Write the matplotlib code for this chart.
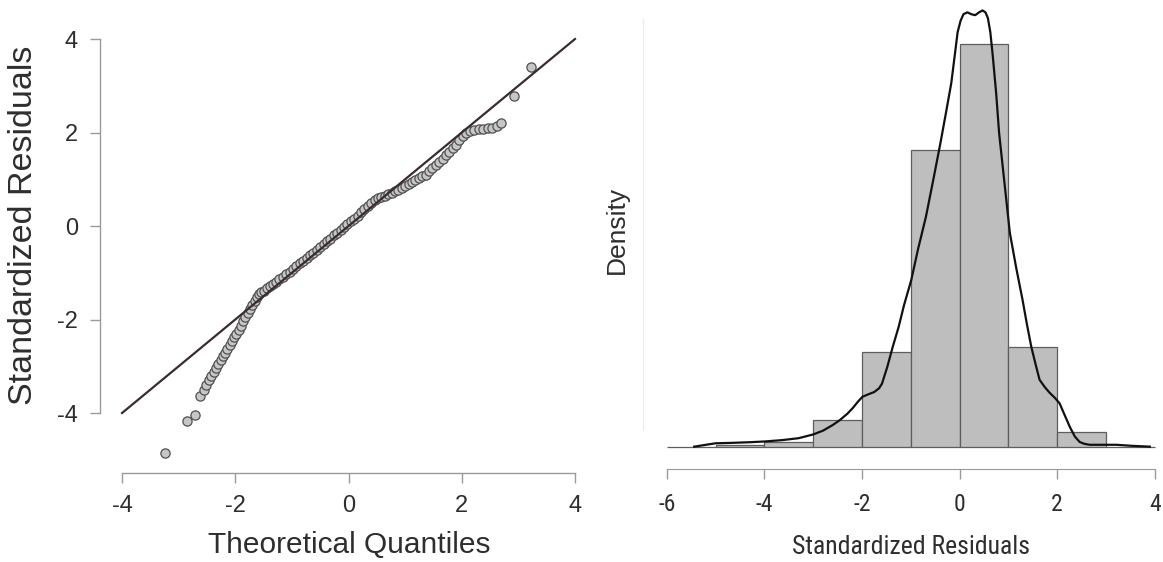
import matplotlib.pyplot as plt
import matplotlib.font_manager as fm

# --- Données ---

# Q-Q plot : quantiles théoriques / résidus standardisés (points visibles)
qq_theo = [-3.24, -2.86, -2.72, -2.62, -2.56, -2.51, -2.47, -2.42, -2.38, -2.34,
           -2.30, -2.26, -2.22, -2.18, -2.14, -2.10, -2.06, -2.02, -1.98, -1.94,
           -1.90, -1.86, -1.82, -1.78, -1.74, -1.70, -1.66, -1.62, -1.58, -1.54,
           -1.49, -1.44, -1.39, -1.34, -1.28, -1.22, -1.16, -1.10, -1.04, -0.98,
           -0.92, -0.86, -0.80, -0.74, -0.68, -0.62, -0.56, -0.50, -0.44, -0.38,
           -0.32, -0.26, -0.20, -0.14, -0.08, -0.02, 0.04, 0.10, 0.16, 0.22,
           0.28, 0.34, 0.40, 0.46, 0.52, 0.58, 0.64, 0.70, 0.76, 0.82,
           0.88, 0.94, 1.00, 1.06, 1.12, 1.18, 1.24, 1.30, 1.36, 1.42,
           1.48, 1.54, 1.60, 1.66, 1.72, 1.78, 1.84, 1.90, 1.96, 2.02,
           2.08, 2.14, 2.22, 2.30, 2.38, 2.46, 2.54, 2.62, 2.70, 2.92,
           3.23]
qq_resid = [-4.86, -4.18, -4.05, -3.63, -3.50, -3.40, -3.30, -3.21, -3.12, -3.03,
            -2.95, -2.87, -2.79, -2.71, -2.63, -2.55, -2.47, -2.38, -2.30, -2.22,
            -2.13, -2.04, -1.95, -1.86, -1.78, -1.69, -1.60, -1.52, -1.46, -1.42,
            -1.38, -1.33, -1.29, -1.24, -1.19, -1.14, -1.08, -1.03, -0.98, -0.92,
            -0.86, -0.80, -0.75, -0.69, -0.63, -0.57, -0.51, -0.45, -0.39, -0.33,
            -0.27, -0.20, -0.14, -0.08, -0.02, 0.04, 0.10, 0.16, 0.22, 0.29,
            0.36, 0.43, 0.50, 0.56, 0.60, 0.63, 0.65, 0.68, 0.71, 0.74,
            0.77, 0.81, 0.85, 0.90, 0.94, 0.98, 1.02, 1.06, 1.10, 1.17,
            1.24, 1.31, 1.37, 1.44, 1.51, 1.58, 1.66, 1.74, 1.84, 1.92,
            1.98, 2.03, 2.06, 2.08, 2.08, 2.09, 2.10, 2.13, 2.20, 2.79,
            3.41]
qq_line_x = [-4, 4]
qq_line_y = [-4, 4]

# Histogramme (densité) : bornes des classes et hauteurs
hist_edges = [-6, -5, -4, -3, -2, -1, 0, 1, 2, 3, 4]
hist_density = [0.0, 0.002, 0.005, 0.028, 0.101, 0.315, 0.427, 0.106, 0.016, 0.0]

# Estimation de densité par noyau
kde_x = [-5.44, -5.20, -5.00, -4.70, -4.31, -4.00, -3.63, -3.30, -3.15, -3.00,
         -2.80, -2.60, -2.46, -2.30, -2.19, -2.08, -1.99, -1.85, -1.75, -1.65,
         -1.59, -1.48, -1.37, -1.25, -1.14, -0.99, -0.85, -0.69, -0.54, -0.39,
         -0.27, -0.17, -0.10, -0.04, 0.02, 0.08, 0.16, 0.24, 0.32, 0.40,
         0.47, 0.53, 0.58, 0.63, 0.68, 0.75, 0.81, 0.92, 1.03, 1.16,
         1.29, 1.38, 1.47, 1.56, 1.64, 1.75, 1.85, 1.95, 2.05, 2.15,
         2.26, 2.36, 2.46, 2.56, 2.67, 2.90, 3.22, 3.50, 3.90]
kde_y = [0.0, 0.002, 0.0036, 0.004, 0.0047, 0.0055, 0.007, 0.009, 0.011, 0.013,
         0.017, 0.023, 0.028, 0.035, 0.041, 0.048, 0.053, 0.056, 0.058, 0.062,
         0.067, 0.085, 0.106, 0.127, 0.150, 0.177, 0.210, 0.244, 0.283, 0.323,
         0.357, 0.386, 0.415, 0.440, 0.452, 0.459, 0.461, 0.459, 0.458, 0.461,
         0.463, 0.461, 0.455, 0.440, 0.415, 0.375, 0.333, 0.280, 0.227, 0.190,
         0.156, 0.130, 0.106, 0.087, 0.071, 0.063, 0.057, 0.052, 0.046, 0.034,
         0.021, 0.011, 0.005, 0.003, 0.002, 0.002, 0.002, 0.001, 0.0]

left_ticks = [-4, -2, 0, 2, 4]
right_xticks = [-6, -4, -2, 0, 2, 4]

# --- Polices ---
plt.rcParams['font.family'] = ['Liberation Sans', 'DejaVu Sans']
plt.rcParams['axes.unicode_minus'] = False

# police sans-serif étroite pour le second graphe, si disponible
narrow_file = None
for f in fm.fontManager.ttflist:
    nm = f.name
    if ('Narrow' in nm or 'Condensed' in nm) and ('Sans' in nm or 'Roboto' in nm) \
            and 'Mono' not in nm and 'Serif' not in nm \
            and f.weight in (400, 'normal', 'regular') and f.style == 'normal':
        narrow_file = f.fname
        if 'Liberation' in nm:
            break
if narrow_file:
    def nfont(size):
        return fm.FontProperties(fname=narrow_file, size=size)
    lab2_size, tick2_size = 18.5, 17
else:
    def nfont(size):
        return fm.FontProperties(family='Liberation Sans', size=size)
    lab2_size, tick2_size = 16.5, 15

txt = '#2e2e2e'
axis_col = '#9a9a9a'
W, H = 1163, 562

fig = plt.figure(figsize=(W / 100, H / 100), dpi=100)
fig.patch.set_facecolor('white')

def box(x0, x1, y_top, y_bot):
    # rectangle en pixels -> coordonnées figure
    return [x0 / W, (H - y_bot) / H, (x1 - x0) / W, (y_bot - y_top) / H]

# --- Graphe 1 : Q-Q plot ---
ax1 = fig.add_axes(box(100, 590, 35, 473))
ax1.scatter(qq_theo, qq_resid, s=44, facecolor='#c6c6c6', edgecolor='#505050',
            linewidth=0.9, zorder=3)
ax1.plot(qq_line_x, qq_line_y, color='#3a2c2c', lw=1.6, zorder=4)
ax1.set_xlim(-4.389, 4.265)
ax1.set_ylim(-5.283, 4.086)
ax1.set_xticks(left_ticks)
ax1.set_yticks(left_ticks)
for s in ['top', 'right']:
    ax1.spines[s].set_visible(False)
for s in ['left', 'bottom']:
    ax1.spines[s].set_bounds(-4, 4)
    ax1.spines[s].set_color(axis_col)
    ax1.spines[s].set_linewidth(1.0)
ax1.tick_params(axis='both', colors=axis_col, labelcolor=txt, labelsize=17,
                length=7, width=1.0)
ax1.tick_params(axis='x', pad=9)
ax1.tick_params(axis='y', pad=9)
fig.text(349 / W, 1 - 545 / H, 'Theoretical Quantiles', ha='center', va='center',
         fontsize=21.5, color=txt)
fig.text(24 / W, 1 - 225 / H, 'Standardized Residuals', ha='center', va='center',
         rotation=90, fontsize=24.5, color=txt)

# --- Graphe 2 : histogramme + densité ---
ax2 = fig.add_axes(box(643, 1163, 8, 469))
lefts = hist_edges[:-1]
widths = [b - a for a, b in zip(hist_edges[:-1], hist_edges[1:])]
ax2.bar(lefts, hist_density, width=widths, align='edge', color='#bebebe',
        edgecolor='#5e5e5e', linewidth=0.9, zorder=2)
ax2.plot(kde_x, kde_y, color='#111111', lw=1.6, zorder=3)
ax2.set_xlim(-6.49, 4.17)
ax2.set_ylim(-0.0237, 0.4656)
ax2.set_xticks(right_xticks)
ax2.set_yticks([])
for s in ['top', 'right']:
    ax2.spines[s].set_visible(False)
ax2.spines['bottom'].set_bounds(-6, 4)
ax2.spines['bottom'].set_color(axis_col)
ax2.spines['left'].set_bounds(0.018, 0.454)
ax2.spines['left'].set_color('#ececec')
ax2.tick_params(axis='x', colors=axis_col, labelcolor=txt, length=7, width=1.0, pad=10)
for lab in ax2.get_xticklabels():
    lab.set_fontproperties(nfont(tick2_size))
fig.text(911 / W, 1 - 547 / H, 'Standardized Residuals', ha='center', va='center',
         color=txt, fontproperties=nfont(lab2_size))
fig.text(617 / W, 1 - 230 / H, 'Density', ha='center', va='center',
         rotation=90, fontsize=19, color=txt)

fig.savefig('out.png', dpi=100, facecolor='white')
